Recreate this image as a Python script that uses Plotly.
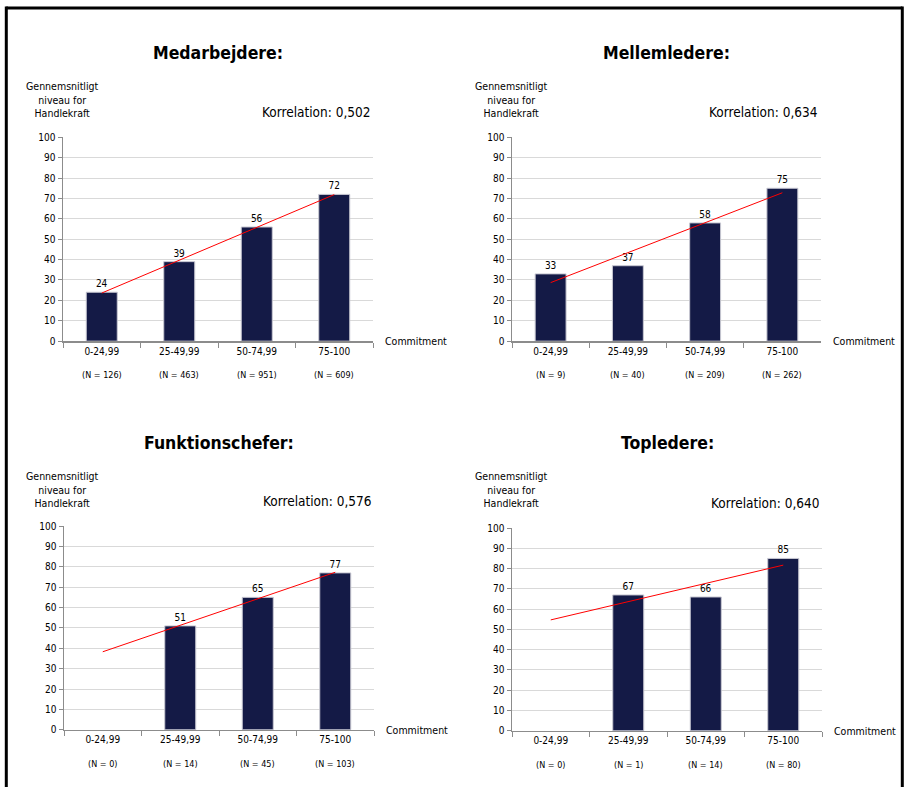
import plotly.graph_objects as go

W, H = 906, 787

categories = ["0-24,99", "25-49,99", "50-74,99", "75-100"]

titles = ["Medarbejdere:", "Mellemledere:", "Funktionschefer:", "Topledere:"]
correlations = ["0,502", "0,634", "0,576", "0,640"]

medarbejdere = [24, 39, 56, 72]
mellemledere = [33, 37, 58, 75]
funktionschefer = [None, 51, 65, 77]
topledere = [None, 67, 66, 85]

n_medarbejdere = [126, 463, 951, 609]
n_mellemledere = [9, 40, 209, 262]
n_funktionschefer = [0, 14, 45, 103]
n_topledere = [0, 1, 14, 80]

# trendline endpoints (at first and last category)
trend_start = [23.6, 28.7, 38.3, 54.7]
trend_end = [71.9, 72.8, 77.3, 81.7]

values = [medarbejdere, mellemledere, funktionschefer, topledere]
counts = [n_medarbejdere, n_mellemledere, n_funktionschefer, n_topledere]

FONT = "DejaVu Sans Condensed, DejaVu Sans, sans-serif"
BAR = "#141a46"

# panel pixel geometry: (x_left, x_right, y_top(100), y_bottom(0))
panels = [
    (63, 373, 137, 341),
    (512, 821, 137, 341),
    (64, 374, 526, 730),
    (512, 822, 528, 731),
]
title_y = [53, 53, 443, 443]
ylabel_y = [99, 99, 489, 489]
korr_y = [112, 112, 501, 503]

def px(x):
    return x / W

def py(y):
    y = (y - 5.6) / 0.9855
    return 1 - y / H

fig = go.Figure()
annotations = []
shapes = []
layout_axes = {}

for i in range(4):
    xl, xr, yt, yb = panels[i]
    ax = "" if i == 0 else str(i + 1)
    xname, yname = "x" + ax, "y" + ax
    vals = values[i]
    fig.add_trace(go.Bar(
        x=categories, y=vals, xaxis=xname, yaxis=yname,
        marker=dict(color=BAR, line=dict(color="#c8c8d2", width=1)),
        text=[("" if v is None else str(v)) for v in vals],
        textposition="outside", cliponaxis=False,
        textfont=dict(family=FONT, size=10, color="#000"),
        width=0.4, showlegend=False, hoverinfo="skip",
    ))
    fig.add_trace(go.Scatter(
        x=[categories[0], categories[-1]], y=[trend_start[i], trend_end[i]],
        xaxis=xname, yaxis=yname, mode="lines",
        line=dict(color="#ff0000", width=1), showlegend=False, hoverinfo="skip",
    ))
    layout_axes["xaxis" + ax] = dict(
        domain=[px(xl), px(xr)], anchor=yname, type="category",
        range=[-0.5, 3.5], showgrid=False, showline=True,
        linecolor="#8c8c8c", linewidth=1.5, ticks="outside", ticklen=5,
        tickcolor="#8c8c8c", tickson="boundaries", fixedrange=True,
        tickfont=dict(family=FONT, size=10, color="#000"),
    )
    layout_axes["yaxis" + ax] = dict(
        domain=[py(yb), py(yt)], anchor=xname, range=[0, 100],
        tickvals=list(range(0, 101, 10)), showgrid=True, gridcolor="#d9d9d9",
        gridwidth=1, showline=True, linecolor="#8c8c8c", linewidth=1.5,
        ticks="outside", ticklen=4, tickcolor="#8c8c8c", zeroline=False,
        tickfont=dict(family=FONT, size=10, color="#000"), fixedrange=True,
    )
    cx = (xl + xr) / 2
    annotations.append(dict(
        text="<b>" + titles[i] + "</b>", x=px(cx), y=py(title_y[i]),
        xref="paper", yref="paper", showarrow=False, xanchor="center", yanchor="middle",
        font=dict(family=FONT, size=17.5, color="#000"),
    ))
    annotations.append(dict(
        text="Gennemsnitligt<br>niveau for<br>Handlekraft", x=px(xl - 1), y=py(ylabel_y[i]),
        xref="paper", yref="paper", showarrow=False, xanchor="center", yanchor="middle",
        align="center", font=dict(family=FONT, size=10.5, color="#000"),
    ))
    annotations.append(dict(
        text="Korrelation: " + correlations[i], x=px(xr - 1), y=py(korr_y[i]),
        xref="paper", yref="paper", showarrow=False, xanchor="right", yanchor="middle",
        font=dict(family=FONT, size=13.5, color="#000"),
    ))
    annotations.append(dict(
        text="Commitment", x=px(xr + 10), y=py(yb),
        xref="paper", yref="paper", showarrow=False, xanchor="left", yanchor="middle",
        font=dict(family=FONT, size=10.5, color="#000"),
    ))
    for c, n in zip(categories, counts[i]):
        annotations.append(dict(
            text="(N = %d)" % n, x=c, xref=xname, y=py(yb + 34), yref="paper",
            showarrow=False, xanchor="center", yanchor="middle",
            font=dict(family=FONT, size=9, color="#000"),
        ))

# outer frame (top, left, right)
for (x0, y0, x1, y1) in [(6.3, 7.5, 902.3, 7.5), (6.3, 6, 6.3, 800), (902.3, 6, 902.3, 800)]:
    shapes.append(dict(type="line", xref="paper", yref="paper",
                       x0=px(x0), y0=py(y0), x1=px(x1), y1=py(y1),
                       line=dict(color="#000", width=3)))

fig.update_layout(
    width=W, height=H, margin=dict(l=0, r=0, t=0, b=0), autosize=False,
    paper_bgcolor="#fff", plot_bgcolor="#fff",
    annotations=annotations, shapes=shapes, bargap=0.6,
    font=dict(family=FONT, color="#000"),
    **layout_axes,
)

post = (
    "var h=document.documentElement,b=document.body;"
    "h.style.margin='0';h.style.padding='0';h.style.overflow='hidden';"
    "b.style.margin='0';b.style.padding='0';b.style.overflow='hidden';"
)

fig.write_html(
    "out.html",
    config=dict(displayModeBar=False, responsive=False, staticPlot=True),
    post_script=post,
)
